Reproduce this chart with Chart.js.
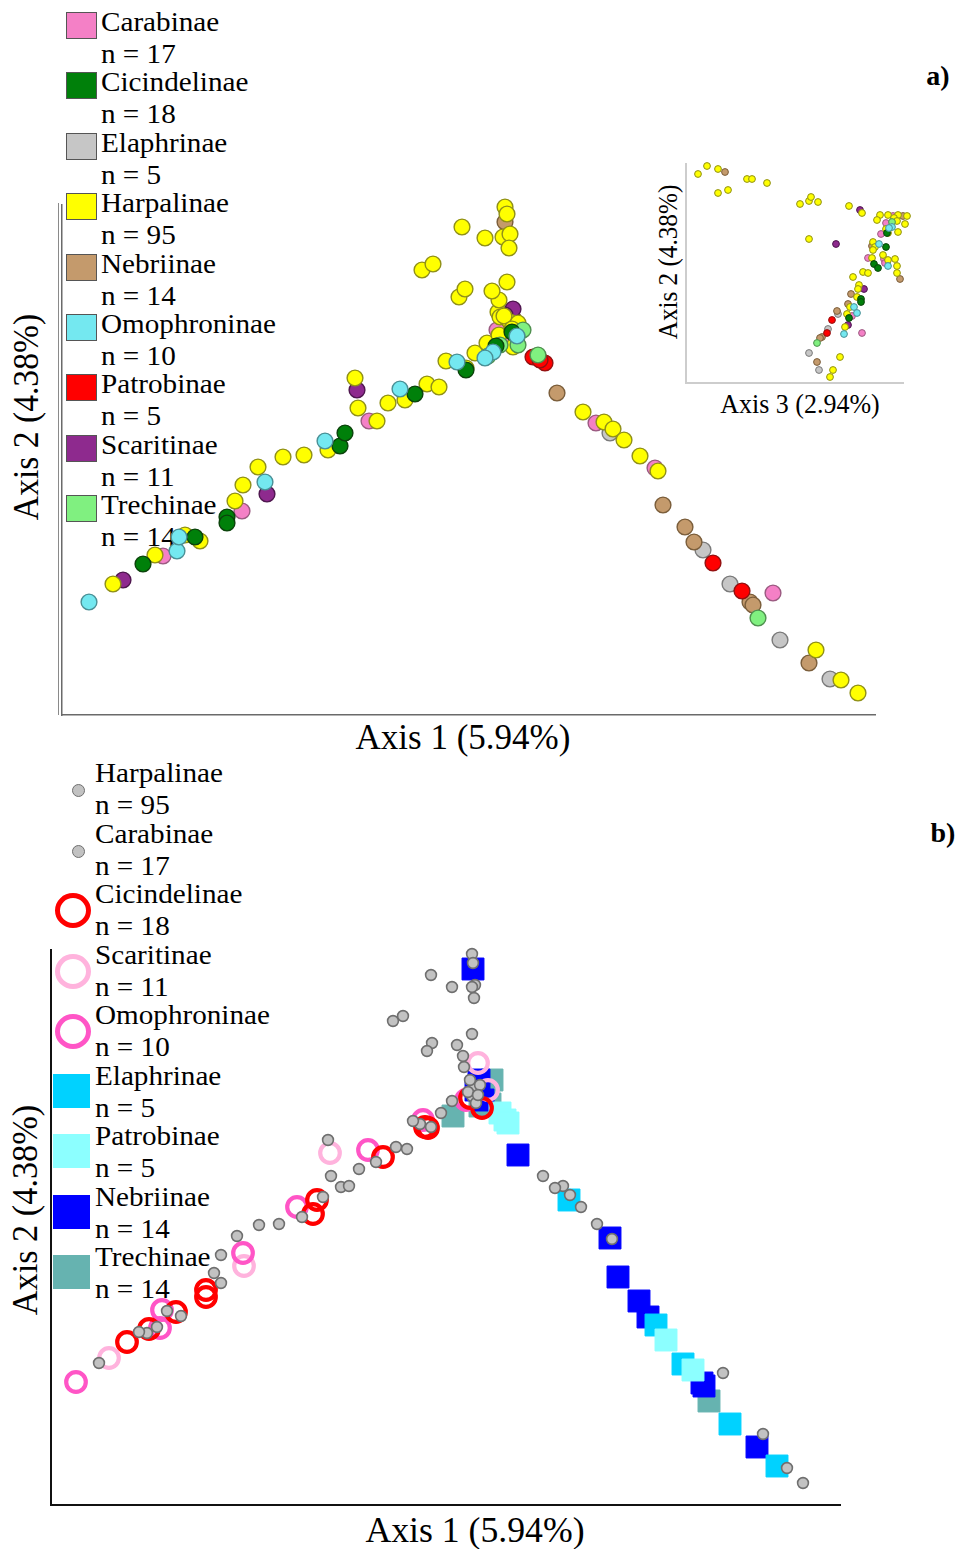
<!DOCTYPE html>
<html>
<head>
<meta charset="utf-8">
<script src="https://cdn.jsdelivr.net/npm/chart.js@4.4.0/dist/chart.umd.min.js"></script>
<style>
  html, body { margin: 0; padding: 0; background: #fff; }
  body { width: 956px; height: 1549px; position: relative; overflow: hidden;
         font-family: 'Liberation Serif', 'Times New Roman', serif; color: #000; }
  canvas { position: absolute; }
  .t { position: absolute; white-space: nowrap; line-height: 1; }
  .sw { position: absolute; box-sizing: border-box; }
</style>
</head>
<body>
<div id="labels"></div>
<canvas id="mainA" width="956" height="760" style="left:0;top:0"></canvas>
<canvas id="insetA" width="240" height="240" style="left:676px;top:155px"></canvas>
<canvas id="mainB" width="956" height="789" style="left:0;top:760px"></canvas>
<script>
// ---------------- Panel a: PCoA scores, Axis 1 vs Axis 2 ----------------
const subfamiliesA = ['Carabinae', 'Cicindelinae', 'Elaphrinae', 'Harpalinae', 'Nebriinae',
                      'Omophroninae', 'Patrobinae', 'Scaritinae', 'Trechinae'];
const countsA = [17, 18, 5, 95, 14, 10, 5, 11, 14];

const a12_Carabinae = [[10.1,15.9],[18.0,20.4],[30.7,29.4],[53.4,29.2],[59.3,24.7],[71.1,12.2],
  [44.3,39.0],[45.0,37.5],[43.5,38.5]];
const a12_Cicindelinae = [[8.1,15.1],[13.3,17.8],[16.5,19.8],[16.5,19.2],[27.8,26.9],[28.3,28.2],
  [35.3,32.1],[40.4,34.5],[45.0,38.3],[43.4,36.9]];
const a12_Elaphrinae = [[54.8,28.2],[64.1,16.5],[66.8,13.1],[71.8,7.5],[76.8,3.6]];
const a12_Harpalinae = [[5.1,13.1],[9.3,16.0],[12.3,18.0],[13.8,17.4],[17.3,21.4],[18.1,23.0],
  [19.6,24.8],[22.1,25.8],[24.2,26.0],[26.6,26.5],[29.3,33.7],[29.6,30.7],[31.5,29.4],[32.6,31.2],
  [34.3,31.5],[36.5,33.1],[37.7,32.8],[38.4,35.4],[40.4,34.7],[41.3,36.2],[42.5,37.2],[43.7,38.0],
  [45.1,36.8],[43.6,40.3],[43.8,39.8],[44.8,39.3],[45.6,39.2],[43.7,41.5],[43.0,42.4],[39.7,41.8],
  [40.3,42.6],[44.5,43.3],[36.0,44.5],[37.1,45.1],[40.0,48.8],[42.3,47.7],[44.1,47.8],[44.8,48.1],
  [44.7,46.7],[44.3,50.8],[44.5,50.1],[52.1,30.3],[54.2,29.3],[55.1,28.6],[56.2,27.5],[57.8,25.9],
  [59.6,24.4],[75.4,6.5],[77.9,3.5],[79.6,2.2],[44.2,39.9],[45.0,38.6]];
const a12_Nebriinae = [[44.3,49.3],[49.5,32.2],[60.1,21.0],[62.3,18.8],[63.2,17.3],[68.8,11.3],
  [69.1,11.0],[74.7,5.2],[45.1,39.7]];
const a12_Omophroninae = [[2.7,11.3],[11.5,16.4],[11.7,17.8],[20.3,23.3],[26.3,27.4],[33.8,32.6],
  [39.5,35.3],[43.1,36.3],[45.5,37.9],[42.3,35.7]];
const a12_Patrobinae = [[47.1,35.8],[48.3,35.2],[65.1,15.2],[68.0,12.4],[47.8,35.5]];
const a12_Scaritinae = [[6.1,13.5],[20.5,22.1],[29.5,32.5],[45.1,40.6],[44.3,40.0]];
const a12_Trechinae = [[46.1,38.5],[45.5,37.8],[43.8,37.0],[45.6,37.0],[42.6,35.9],[47.6,36.0],[69.6,9.7]];

// Inset: Axis 3 vs Axis 2
const a32_Harpalinae = [[1.2,20.9],[2.1,21.7],[3.2,21.4],[3.2,19.0],[4.2,19.3],[6.1,20.4],[6.6,20.4],
  [8.1,20.0],[11.4,17.9],[12.3,18.2],[12.5,18.6],[13.2,18.1],[16.3,17.7],[17.6,17.0],[19.4,16.8],
  [20.2,16.8],[21.2,16.8],[22.1,16.7],[22.5,16.8],[19.1,16.3],[20.8,16.5],[21.1,16.2],[21.9,15.9],
  [20.0,15.4],[20.2,15.0],[21.2,15.1],[12.3,14.4],[18.7,14.1],[18.9,13.6],[18.7,13.3],[18.6,12.5],
  [19.7,12.8],[20.2,12.3],[20.9,12.4],[21.1,11.7],[21.1,11.0],[16.7,10.6],[17.7,11.1],[18.2,11.0],
  [17.3,9.8],[17.2,9.4],[17.1,8.6],[16.4,7.6],[16.1,6.9],[15.9,5.6],[15.4,2.6],[14.7,1.3],[14.4,0.6]];
const a32_Carabinae = [[20.0,16.0],[19.5,14.9],[18.2,12.5],[19.8,12.4],[19.9,12.0],[16.6,6.7],
  [17.6,5.0],[20.7,16.7]];
const a32_Nebriinae = [[3.9,21.1],[21.7,16.7],[21.4,10.4],[16.5,8.9],[16.2,7.9],[15.1,7.2],[13.6,4.6],
  [13.4,4.5],[13.1,2.1],[18.6,13.7]];
const a32_Omophroninae = [[20.6,15.6],[20.3,15.5],[19.3,13.9],[16.8,7.6],[17.1,7.0],[15.8,4.9],[20.2,11.7]];
const a32_Cicindelinae = [[20.0,13.6],[18.8,11.9],[19.2,11.5],[17.5,8.4],[17.5,8.1],[16.3,6.5],[20.1,15.0]];
const a32_Scaritinae = [[17.4,17.3],[15.0,13.9],[17.8,9.4],[16.2,5.8]];
const a32_Patrobinae = [[14.6,6.3],[14.1,5.0]];
const a32_Elaphrinae = [[15.2,6.9],[14.2,5.4],[12.3,3.0],[13.3,1.3],[20.1,12.0]];
const a32_Trechinae = [[13.1,4.0],[20.6,16.1]];

// ---------------- Panel b: same ordination, grouped symbols ----------------
const subfamiliesB = ['Harpalinae', 'Carabinae', 'Cicindelinae', 'Scaritinae', 'Omophroninae',
                      'Elaphrinae', 'Patrobinae', 'Nebriinae', 'Trechinae'];
const countsB = [95, 17, 18, 11, 10, 5, 5, 14, 14];

const b12_Harpalinae = [[4.8,14.2],[8.8,17.3],[10.6,17.8],[11.6,19.4],[17.0,22.2],[16.3,23.2],
  [17.0,25.0],[18.6,26.9],[20.8,28.0],[22.8,28.1],[27.2,30.8],[25.1,28.8],[28.0,32.9],[29.8,31.9],
  [30.8,33.6],[27.7,36.5],[32.5,34.3],[34.5,35.8],[35.6,35.6],[36.2,38.4],[38.0,37.8],[39.0,39.2],
  [40.1,40.4],[41.3,43.8],[42.1,55.1],[42.2,54.2],[42.4,52.0],[42.1,51.8],[42.3,50.7],[38.0,53.0],
  [40.1,51.8],[34.2,48.4],[35.2,48.9],[42.1,47.1],[38.1,46.2],[37.6,45.4],[40.6,46.0],[41.2,44.9],
  [41.9,42.5],[42.1,40.9],[42.5,40.2],[41.7,41.3],[42.9,42.0],[42.7,41.0],[49.2,32.9],[50.4,31.7],
  [51.9,31.0],[53.0,29.8],[56.1,26.6],[75.2,2.2]];
const b12_Carabinae = [[9.6,17.2],[13.0,18.9],[29.0,31.8],[36.9,38.1],[42.3,41.7],[51.2,31.9],
  [54.6,28.1],[67.2,13.2],[71.2,7.1],[73.6,3.7]];
const b12_Cicindelinae = [[7.6,16.3],[9.8,17.6],[12.5,19.3],[15.5,21.5],[15.5,20.8],[26.6,30.5],
  [26.2,29.1],[33.2,34.8],[37.7,37.7],[37.4,37.8],[41.9,40.7],[43.1,39.7]];
const b12_Scaritinae = [[5.8,14.7],[19.3,23.9],[27.9,35.2],[42.7,44.2],[43.7,41.5]];
const b12_Omophroninae = [[2.5,12.3],[10.9,17.7],[11.1,19.5],[19.2,25.2],[24.6,29.8],[31.7,35.5],
  [37.2,38.5],[41.5,40.5]];
const b12_Elaphrinae = [[51.8,30.5],[60.5,18.0],[63.2,14.1],[67.9,8.1],[72.6,3.9]];
const b12_Patrobinae = [[44.9,39.2],[45.4,38.5],[45.7,38.2],[61.5,16.5],[64.2,13.5]];
const b12_Nebriinae = [[42.2,53.6],[42.8,42.5],[46.7,35.0],[55.9,26.7],[56.7,22.8],[58.8,20.4],
  [59.7,18.8],[65.1,12.2],[65.3,11.9],[70.6,5.8],[42.5,41.5],[43.2,40.5]];
const b12_Trechinae = [[40.2,38.9],[43.6,40.8],[44.1,42.5],[65.8,10.4],[43.3,41.7],[42.9,39.9],[43.9,40.1]];

// ---------------- styles ----------------
const fillA = {
  Carabinae: '#f480c6', Cicindelinae: '#00800a', Elaphrinae: '#c6c6c6', Harpalinae: '#ffff00',
  Nebriinae: '#c49a6c', Omophroninae: '#74e8f0', Patrobinae: '#ff0000', Scaritinae: '#8e2a8e',
  Trechinae: '#80f080'
};
const edgeA = {
  Carabinae: '#9a5a80', Cicindelinae: '#0b420b', Elaphrinae: '#7a7a7a', Harpalinae: '#8f8f18',
  Nebriinae: '#7a5d3a', Omophroninae: '#4a8f95', Patrobinae: '#921010', Scaritinae: '#4e164e',
  Trechinae: '#4f8f4f'
};
const styleB = {
  Harpalinae:   { kind: 'dot',  color: '#c2c2c2', edge: '#6f6f6f' },
  Carabinae:    { kind: 'dot',  color: '#c2c2c2', edge: '#6f6f6f' },
  Cicindelinae: { kind: 'ring', color: '#ff0000' },
  Scaritinae:   { kind: 'ring', color: '#ffb3dd' },
  Omophroninae: { kind: 'ring', color: '#ff55c6' },
  Elaphrinae:   { kind: 'box',  color: '#00d2ff' },
  Patrobinae:   { kind: 'box',  color: '#8cffff' },
  Nebriinae:    { kind: 'box',  color: '#0000ff' },
  Trechinae:    { kind: 'box',  color: '#66b3b0' }
};

const toPts = arr => arr.map(([x, y]) => ({ x, y }));

function axis(max, color, width) {
  return {
    type: 'linear', min: 0, max,
    ticks: { display: false },
    grid: { display: false, drawTicks: false },
    border: { display: true, color, width }
  };
}

function baseOptions(padding, xMax, yMax, color, width) {
  return {
    responsive: false, animation: false, devicePixelRatio: 1, events: [],
    layout: { padding },
    scales: { x: axis(xMax, color, width), y: axis(yMax, color, width) },
    plugins: { legend: { display: false }, tooltip: { enabled: false } }
  };
}

// second thin spine beside the vertical axis of panel a
const doubleSpine = {
  id: 'doubleSpine',
  afterDraw(chart, args, opts) {
    if (!opts || !opts.gap) return;
    const { ctx, chartArea: a } = chart;
    ctx.save();
    ctx.strokeStyle = opts.color;
    ctx.lineWidth = 1;
    ctx.beginPath();
    ctx.moveTo(a.left - opts.gap + 0.5, a.top - 2);
    ctx.lineTo(a.left - opts.gap + 0.5, a.bottom);
    ctx.stroke();
    ctx.restore();
  }
};

function dsA(name, data, r, bw) {
  return {
    type: 'scatter', label: name, data: toPts(data), clip: false,
    pointRadius: r, pointBorderWidth: bw, pointStyle: 'circle',
    pointBackgroundColor: fillA[name], pointBorderColor: edgeA[name]
  };
}

// top-most series first
const orderA = ['Omophroninae', 'Cicindelinae', 'Trechinae', 'Patrobinae', 'Harpalinae',
                'Scaritinae', 'Carabinae', 'Nebriinae', 'Elaphrinae'];
const seriesA12 = { Carabinae: a12_Carabinae, Cicindelinae: a12_Cicindelinae, Elaphrinae: a12_Elaphrinae,
  Harpalinae: a12_Harpalinae, Nebriinae: a12_Nebriinae, Omophroninae: a12_Omophroninae,
  Patrobinae: a12_Patrobinae, Scaritinae: a12_Scaritinae, Trechinae: a12_Trechinae };
const seriesA32 = { Carabinae: a32_Carabinae, Cicindelinae: a32_Cicindelinae, Elaphrinae: a32_Elaphrinae,
  Harpalinae: a32_Harpalinae, Nebriinae: a32_Nebriinae, Omophroninae: a32_Omophroninae,
  Patrobinae: a32_Patrobinae, Scaritinae: a32_Scaritinae, Trechinae: a32_Trechinae };

const optA = baseOptions({ left: 62, top: 205, right: 81, bottom: 45 }, 81.3, 51, '#6a6a6a', 1.5);
optA.plugins.doubleSpine = { gap: 4, color: '#8a8a8a' };
new Chart(document.getElementById('mainA'), {
  type: 'scatter',
  data: { datasets: orderA.map(n => dsA(n, seriesA12[n], 7.9, 1.4)) },
  options: optA,
  plugins: [doubleSpine]
});

new Chart(document.getElementById('insetA'), {
  type: 'scatter',
  data: { datasets: orderA.map(n => dsA(n, seriesA32[n], 3.4, 1)) },
  options: baseOptions({ left: 10, top: 9, right: 13, bottom: 12 }, 21.7, 21.9, '#cdcdcd', 2)
});

// panel b
const seriesB = { Harpalinae: b12_Harpalinae, Carabinae: b12_Carabinae, Cicindelinae: b12_Cicindelinae,
  Scaritinae: b12_Scaritinae, Omophroninae: b12_Omophroninae, Elaphrinae: b12_Elaphrinae,
  Patrobinae: b12_Patrobinae, Nebriinae: b12_Nebriinae, Trechinae: b12_Trechinae };
const orderB = ['Harpalinae', 'Carabinae', 'Cicindelinae', 'Omophroninae', 'Scaritinae',
                'Patrobinae', 'Elaphrinae', 'Nebriinae', 'Trechinae'];

function dsB(name) {
  const s = styleB[name];
  const base = { type: 'scatter', label: name, data: toPts(seriesB[name]), clip: false };
  if (s.kind === 'dot') {
    return Object.assign(base, { pointStyle: 'circle', pointRadius: 5.4, pointBorderWidth: 1.6,
      pointBackgroundColor: s.color, pointBorderColor: s.edge });
  }
  if (s.kind === 'ring') {
    return Object.assign(base, { pointStyle: 'circle', pointRadius: 9.8, pointBorderWidth: 4.2,
      pointBackgroundColor: 'rgba(0,0,0,0)', pointBorderColor: s.color });
  }
  return Object.assign(base, { pointStyle: 'rect', pointRadius: 15.5, pointBorderWidth: 1,
    pointBackgroundColor: s.color, pointBorderColor: s.color });
}

new Chart(document.getElementById('mainB'), {
  type: 'scatter',
  data: { datasets: orderB.map(dsB) },
  options: baseOptions({ left: 51, top: 190, right: 116, bottom: 44 }, 78.9, 55.5, '#111111', 2)
});

// ---------------- text and legends ----------------
const host = document.getElementById('labels');
function text(str, x, y, size, opts = {}) {
  const el = document.createElement('div');
  el.className = 't';
  el.textContent = str;
  el.style.left = x + 'px';
  el.style.top = y + 'px';
  el.style.fontSize = size + 'px';
  if (opts.bold) el.style.fontWeight = 'bold';
  const stretch = 'scaleX(' + (opts.stretch || 1) + ')';
  if (opts.rotate) {
    el.style.transform = 'translate(-50%,-50%) rotate(-90deg) ' + stretch;
  } else if (opts.center) {
    el.style.transform = 'translate(-50%,-50%) ' + stretch;
  } else {
    el.style.transformOrigin = '0 50%';
    el.style.transform = 'translate(0,-50%) ' + stretch;
  }
  host.appendChild(el);
}
function swatch(x, y, w, h, css) {
  const el = document.createElement('div');
  el.className = 'sw';
  el.style.left = x + 'px'; el.style.top = y + 'px';
  el.style.width = w + 'px'; el.style.height = h + 'px';
  Object.assign(el.style, css);
  host.appendChild(el);
}

// panel a legend
subfamiliesA.forEach((name, i) => {
  const cy = 22 + i * 60.4;
  swatch(66, cy - 10, 31, 27, { background: fillA[name], border: '1.5px solid #555' });
  text(name, 101, cy, 27, { stretch: 1.08 });
  text('n = ' + countsA[i], 101, cy + 32, 27, { stretch: 1.08 });
});

// panel b legend
subfamiliesB.forEach((name, i) => {
  const cy = 773 + i * 60.5;
  const s = styleB[name];
  if (s.kind === 'dot') {
    swatch(72, cy + 11, 13, 13, { background: s.color, border: '1.5px solid ' + s.edge, borderRadius: '50%' });
  } else if (s.kind === 'ring') {
    swatch(55, cy - 1, 36, 35, { border: '5px solid ' + s.color, borderRadius: '50%' });
  } else {
    swatch(53, cy - 2, 37, 34, { background: s.color });
  }
  text(name, 95, cy, 27, { stretch: 1.08 });
  text('n = ' + countsB[i], 95, cy + 32, 27, { stretch: 1.08 });
});

// axis titles and panel tags
text('Axis 1 (5.94%)', 463, 737, 35, { center: true });
text('Axis 2 (4.38%)', 26, 417, 35, { rotate: true, stretch: 0.96 });
text('Axis 3 (2.94%)', 800, 404, 26.5, { center: true, stretch: 0.98 });
text('Axis 2 (4.38%)', 668, 262, 26.5, { rotate: true, stretch: 0.95 });
text('Axis 1 (5.94%)', 475, 1530, 35, { center: true, stretch: 1.02 });
text('Axis 2 (4.38%)', 25, 1210, 35, { rotate: true, stretch: 0.98 });
text('a)', 938, 76, 28, { center: true, bold: true });
text('b)', 943, 833, 28, { center: true, bold: true });
</script>
</body>
</html>
